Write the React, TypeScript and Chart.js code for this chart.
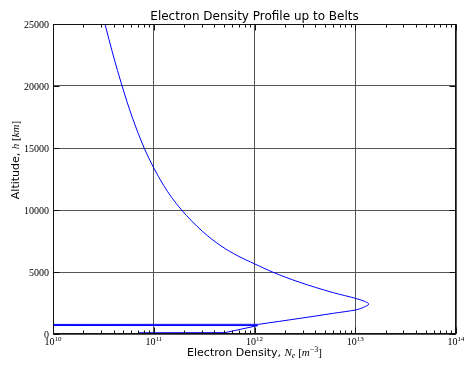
import React, { useEffect, useRef } from "react";
import { Chart, registerables } from "chart.js";

Chart.register(...registerables);

// Lower part of the profile (straight segments, incl. the spike near 700 km)
const lowAltitudeKm = [100, 110, 680, 690, 770, 780];
const lowDensity = [7.0e10, 5.1e11, 1.08e12, 1e9, 1e9, 1.1e12];

// Main smooth profile: altitude (km) and electron density (m^-3)
const altitudeKm = [780, 1265, 1670, 1935, 2153, 2419, 2605, 2879, 3331, 4170, 4976, 5645, 6290, 7040, 8250, 10000, 11000, 12000, 13430, 15000, 17500, 20000, 22500, 25000];
const electronDensity = [1.1e12, 2.84e12, 6.08e12, 1.0e13, 1.21e13, 1.36e13, 1.26e13, 1.0e13, 6.07e12, 2.81e12, 1.53e12, 1.01e12, 6.87e11, 4.78e11, 3.07e11, 1.89e11, 1.51e11, 1.25e11, 9.95e10, 8.03e10, 6.1e10, 4.85e10, 3.95e10, 3.28e10];

const xMajorTicks = [1e10, 1e11, 1e12, 1e13, 1e14];
const xTickExponents = ["10", "11", "12", "13", "14"];
const yTicks = [0, 5000, 10000, 15000, 20000, 25000];
const yTickLabels = ["0", "5000", "10000", "15000", "20000", "25000"];

const titleText = "Electron Density Profile up to Belts";

const SANS = '"DejaVu Sans"';
const SERIF = '"Liberation Serif"';

type Seg = { t: string; f: string; dy?: number };

function drawRich(ctx: CanvasRenderingContext2D, segs: Seg[], x: number, y: number, align: "center" | "right") {
  let w = 0;
  for (const s of segs) {
    ctx.font = s.f;
    w += ctx.measureText(s.t).width;
  }
  let cx = align === "center" ? x - w / 2 : x - w;
  for (const s of segs) {
    ctx.font = s.f;
    ctx.fillText(s.t, cx, y + (s.dy || 0));
    cx += ctx.measureText(s.t).width;
  }
}

const decorPlugin = {
  id: "decor",
  afterDraw(chart: any) {
    const ctx: CanvasRenderingContext2D = chart.ctx;
    const ca = chart.chartArea;
    const xs = chart.scales.x;
    const ys = chart.scales.y;
    ctx.save();
    ctx.strokeStyle = "#111";
    ctx.lineWidth = 1;
    const L = Math.round(ca.left) + 0.5;
    const R = Math.round(ca.right) - 0.5;
    const T = Math.round(ca.top) + 0.5;
    const B = Math.round(ca.bottom) - 0.5;
    ctx.beginPath();
    for (let d = 0; d < xMajorTicks.length - 1; d++) {
      for (let m = 2; m <= 9; m++) {
        const px = Math.round(xs.getPixelForValue(xMajorTicks[d] * m)) + 0.5;
        ctx.moveTo(px, B);
        ctx.lineTo(px, B - 3);
        ctx.moveTo(px, T);
        ctx.lineTo(px, T + 3);
      }
    }
    for (const v of xMajorTicks) {
      const px = Math.round(xs.getPixelForValue(v)) + 0.5;
      ctx.moveTo(px, B);
      ctx.lineTo(px, B - 6);
      ctx.moveTo(px, T);
      ctx.lineTo(px, T + 6);
    }
    for (const v of yTicks) {
      const py = Math.round(ys.getPixelForValue(v)) + 0.5;
      ctx.moveTo(L, py);
      ctx.lineTo(L + 6, py);
      ctx.moveTo(R, py);
      ctx.lineTo(R - 6, py);
    }
    ctx.stroke();
    ctx.strokeRect(L, T, R - L, B - T);

    ctx.fillStyle = "#000";
    ctx.textBaseline = "alphabetic";
    yTicks.forEach((v, i) => {
      const py = ys.getPixelForValue(v);
      drawRich(ctx, [{ t: yTickLabels[i], f: `10px ${SERIF}` }], ca.left - 4, py + 3.5, "right");
    });
    xMajorTicks.forEach((v, i) => {
      const px = xs.getPixelForValue(v);
      drawRich(
        ctx,
        [
          { t: "10", f: `10px ${SERIF}` },
          { t: xTickExponents[i], f: `7px ${SERIF}`, dy: -4 },
        ],
        px,
        ca.bottom + 11,
        "center"
      );
    });
    const cxm = (ca.left + ca.right) / 2;
    drawRich(ctx, [{ t: titleText, f: `12px ${SANS}` }], cxm, 20, "center");
    drawRich(
      ctx,
      [
        { t: "Electron Density, ", f: `11px ${SANS}` },
        { t: "N", f: `italic 11px ${SERIF}` },
        { t: "e", f: `italic 8px ${SERIF}`, dy: 2 },
        { t: " [", f: `11px ${SERIF}` },
        { t: "m", f: `italic 11px ${SERIF}` },
        { t: "\u22123", f: `8px ${SERIF}`, dy: -4 },
        { t: "]", f: `11px ${SERIF}` },
      ],
      cxm,
      356,
      "center"
    );
    ctx.translate(19, 160);
    ctx.rotate(-Math.PI / 2);
    drawRich(
      ctx,
      [
        { t: "Altitude, ", f: `11px ${SANS}` },
        { t: "h", f: `italic 11px ${SERIF}` },
        { t: " [", f: `11px ${SERIF}` },
        { t: "km", f: `italic 11px ${SERIF}` },
        { t: "]", f: `11px ${SERIF}` },
      ],
      0,
      0,
      "center"
    );
    ctx.restore();
  },
};

export default function App() {
  const ref = useRef<HTMLCanvasElement | null>(null);
  useEffect(() => {
    document.body.style.margin = "0";
    const canvas = ref.current;
    if (!canvas) return;
    const lowPts = lowAltitudeKm.map((a, i) => ({ x: lowDensity[i], y: a }));
    const pts = altitudeKm.map((a, i) => ({ x: electronDensity[i], y: a }));
    const chart = new Chart(canvas, {
      type: "line",
      data: {
        datasets: [
          {
            data: lowPts,
            borderColor: "#0000ff",
            borderWidth: 1,
            pointRadius: 0,
            tension: 0,
            fill: false,
          },
          {
            data: pts,
            borderColor: "#0000ff",
            borderWidth: 1,
            pointRadius: 0,
            cubicInterpolationMode: "monotone",
            fill: false,
          },
        ],
      },
      options: {
        indexAxis: "y",
        animation: false,
        responsive: false,
        maintainAspectRatio: false,
        devicePixelRatio: 1,
        layout: { padding: { left: 53, right: 8, top: 24, bottom: 32 } },
        plugins: { legend: { display: false }, title: { display: false }, tooltip: { enabled: false } },
        scales: {
          x: {
            type: "logarithmic",
            position: "bottom",
            min: 1e10,
            max: 1e14,
            afterBuildTicks: (s: any) => {
              s.ticks = xMajorTicks.map((v) => ({ value: v }));
            },
            ticks: { display: false },
            grid: { color: "#555", lineWidth: 1, drawTicks: false },
            border: { display: false },
          },
          y: {
            type: "linear",
            position: "left",
            min: 0,
            max: 25000,
            afterBuildTicks: (s: any) => {
              s.ticks = yTicks.map((v) => ({ value: v }));
            },
            ticks: { display: false },
            grid: { color: "#555", lineWidth: 1, drawTicks: false },
            border: { display: false },
          },
        },
      },
      plugins: [decorPlugin],
    });
    return () => chart.destroy();
  }, []);
  return (
    <div style={{ width: 464, height: 366, background: "#fff" }}>
      <canvas ref={ref} width={464} height={366} style={{ display: "block" }} />
    </div>
  );
}
